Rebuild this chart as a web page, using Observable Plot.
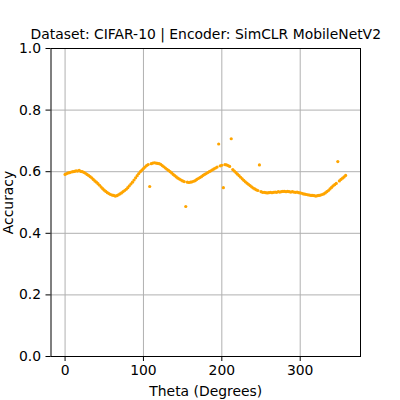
<!DOCTYPE html>
<html>
<head>
<meta charset="utf-8">
<script src="https://cdn.jsdelivr.net/npm/d3@7"></script>
<script src="https://cdn.jsdelivr.net/npm/@observablehq/plot@0.6"></script>
<style>
  html, body { margin: 0; padding: 0; background: #fff; }
</style>
</head>
<body>
<div id="chart"></div>
<script>
const titleText = "Dataset: CIFAR-10 | Encoder: SimCLR MobileNetV2";
const xLabel = "Theta (Degrees)";
const yLabel = "Accuracy";
const xTicks = [0, 100, 200, 300];
const yTicks = [0, 0.2, 0.4, 0.6, 0.8, 1.0];

const theta = [
  0, 2, 4, 6, 8, 10, 12, 14, 16, 18, 20, 22, 24, 26, 28, 30, 32, 34, 36, 38,
  40, 42, 44, 46, 48, 50, 52, 54, 56, 58, 60, 62, 64, 66, 68, 70, 72, 74, 76, 78,
  80, 82, 84, 86, 88, 90, 92, 94, 96, 98, 100, 102, 104, 106, 108, 110, 112, 114, 116, 118,
  120, 122, 124, 126, 128, 130, 132, 134, 136, 138, 140, 142, 144, 146, 148, 150, 152, 154, 156, 158,
  160, 162, 164, 166, 168, 170, 172, 174, 176, 178, 180, 182, 184, 186, 188, 190, 192, 194, 196, 198,
  200, 202, 204, 206, 208, 210, 212, 214, 216, 218, 220, 222, 224, 226, 228, 230, 232, 234, 236, 238,
  240, 242, 244, 246, 248, 250, 252, 254, 256, 258, 260, 262, 264, 266, 268, 270, 272, 274, 276, 278,
  280, 282, 284, 286, 288, 290, 292, 294, 296, 298, 300, 302, 304, 306, 308, 310, 312, 314, 316, 318,
  320, 322, 324, 326, 328, 330, 332, 334, 336, 338, 340, 342, 344, 346, 348, 350, 352, 354, 356, 358
];

const accuracy = [
  0.591, 0.594, 0.596, 0.597, 0.599, 0.600, 0.601, 0.603, 0.602, 0.604, 0.601, 0.600, 0.598, 0.595, 0.591, 0.588, 0.584, 0.580, 0.575, 0.570,
  0.566, 0.561, 0.556, 0.550, 0.545, 0.540, 0.536, 0.532, 0.529, 0.526, 0.524, 0.523, 0.521, 0.522, 0.525, 0.528, 0.531, 0.535, 0.539, 0.543,
  0.548, 0.554, 0.560, 0.566, 0.573, 0.580, 0.587, 0.594, 0.600, 0.605, 0.610, 0.615, 0.620, 0.623, 0.552, 0.626, 0.628, 0.629, 0.628, 0.627,
  0.626, 0.624, 0.620, 0.616, 0.612, 0.608, 0.604, 0.600, 0.596, 0.591, 0.587, 0.583, 0.579, 0.576, 0.573, 0.570, 0.568, 0.487, 0.566, 0.565,
  0.566, 0.567, 0.569, 0.571, 0.575, 0.578, 0.581, 0.584, 0.588, 0.591, 0.594, 0.597, 0.600, 0.603, 0.606, 0.609, 0.612, 0.615, 0.690, 0.619,
  0.621, 0.548, 0.623, 0.622, 0.620, 0.617, 0.707, 0.607, 0.602, 0.597, 0.592, 0.587, 0.582, 0.577, 0.572, 0.567, 0.563, 0.559, 0.555, 0.551,
  0.547, 0.544, 0.541, 0.539, 0.622, 0.535, 0.533, 0.533, 0.532, 0.531, 0.532, 0.533, 0.532, 0.533, 0.534, 0.533, 0.535, 0.534, 0.535, 0.536,
  0.536, 0.535, 0.536, 0.535, 0.534, 0.535, 0.534, 0.533, 0.534, 0.532, 0.531, 0.530, 0.528, 0.527, 0.526, 0.525, 0.524, 0.523, 0.523, 0.522,
  0.521, 0.522, 0.523, 0.524, 0.526, 0.528, 0.531, 0.535, 0.539, 0.544, 0.549, 0.554, 0.558, 0.562, 0.633, 0.570, 0.575, 0.579, 0.583, 0.588
];

const data = theta.map((t, i) => ({theta: t, acc: accuracy[i]}));
const fs = 13.9;

const chart = Plot.plot({
  width: 400,
  height: 400,
  marginLeft: 50.5,
  marginRight: 40,
  marginTop: 48,
  marginBottom: 44,
  style: {fontFamily: "DejaVu Sans", fontSize: fs + "px", color: "#000", background: "#fff"},
  x: {domain: [-17.95, 376.95]},
  y: {domain: [0, 1]},
  marks: [
    Plot.gridX(xTicks, {stroke: "#b0b0b0", strokeOpacity: 1, strokeWidth: 1}),
    Plot.gridY(yTicks, {stroke: "#b0b0b0", strokeOpacity: 1, strokeWidth: 1}),
    Plot.dot(data, {x: "theta", y: "acc", r: 1.6, fill: "#ffa500", stroke: "none"}),
    Plot.frame({stroke: "#000", strokeWidth: 1}),
    Plot.axisX(xTicks, {tickSize: 5, tickPadding: 4, label: null, fontSize: fs}),
    Plot.axisY(yTicks, {tickSize: 5, tickPadding: 5, label: null, tickFormat: d3.format(".1f"), fontSize: fs}),
    Plot.text([titleText], {frameAnchor: "top", dy: -14, lineAnchor: "middle", fontSize: fs}),
    Plot.text([xLabel], {frameAnchor: "bottom", dy: 35, lineAnchor: "middle", fontSize: fs}),
    Plot.text([yLabel], {frameAnchor: "left", dx: -42, rotate: -90, textAnchor: "middle", lineAnchor: "middle", fontSize: fs})
  ]
});
document.getElementById("chart").appendChild(chart);
</script>
</body>
</html>
